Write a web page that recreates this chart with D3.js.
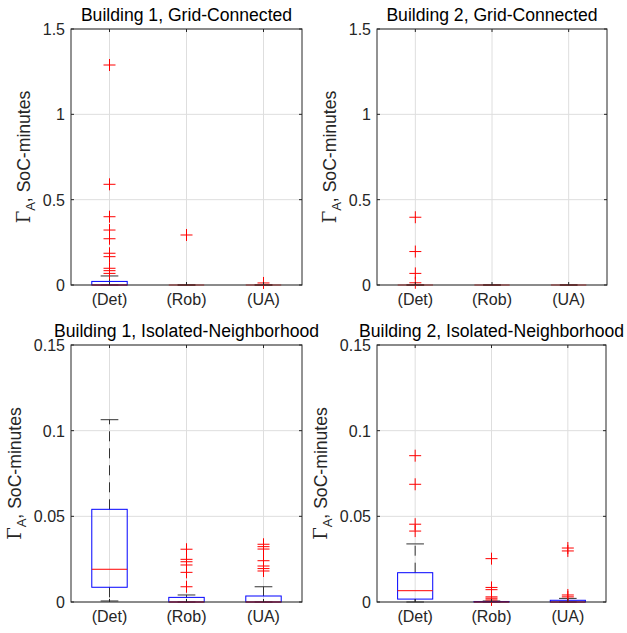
<!DOCTYPE html>
<html>
<head>
<meta charset="utf-8">
<script src="https://cdn.jsdelivr.net/npm/d3@7"></script>
<style>
  html, body { margin: 0; padding: 0; background: #fff; }
  svg { display: block; }
</style>
</head>
<body>
<svg id="chart" width="627" height="633"></svg>
<script>
// Categories and labels
const categories = ["(Det)", "(Rob)", "(UA)"];
const panelTitles = [
  "Building 1, Grid-Connected",
  "Building 2, Grid-Connected",
  "Building 1, Isolated-Neighborhood",
  "Building 2, Isolated-Neighborhood"
];
const gridTicks = [0, 0.5, 1, 1.5];
const gridTickLabels = ["0", "0.5", "1", "1.5"];
const isoTicks = [0, 0.05, 0.1, 0.15];
const isoTickLabels = ["0", "0.05", "0.1", "0.15"];

// Box statistics per category: lower whisker, Q1, median, Q3, upper whisker
const b1GridStats = [
  { lo: 0, q1: 0, med: 0, q3: 0.021, hi: 0.053 },
  { lo: 0, q1: 0, med: 0, q3: 0, hi: 0 },
  { lo: 0, q1: 0, med: 0, q3: 0, hi: 0 }
];
const b1GridOutliers = [
  [1.289, 0.59, 0.40, 0.322, 0.271, 0.186, 0.166, 0.098, 0.084, 0.068],
  [0.293],
  [0.012]
];

const b2GridStats = [
  { lo: 0, q1: 0, med: 0, q3: 0, hi: 0 },
  { lo: 0, q1: 0, med: 0, q3: 0, hi: 0 },
  { lo: 0, q1: 0, med: 0, q3: 0, hi: 0 }
];
const b2GridOutliers = [
  [0.397, 0.196, 0.068, 0.013],
  [],
  []
];

const b1IsoStats = [
  { lo: 0.0006, q1: 0.0086, med: 0.0191, q3: 0.0541, hi: 0.1064 },
  { lo: 0, q1: 0, med: 0, q3: 0.0027, hi: 0.0041 },
  { lo: 0, q1: 0, med: 0, q3: 0.0035, hi: 0.0089 }
];
const b1IsoOutliers = [
  [],
  [0.0308, 0.0249, 0.0235, 0.0216, 0.0173, 0.0089],
  [0.0337, 0.0323, 0.0309, 0.0241, 0.021, 0.0195, 0.0181]
];

const b2IsoStats = [
  { lo: 0, q1: 0.0017, med: 0.0066, q3: 0.0171, hi: 0.0339 },
  { lo: 0, q1: 0, med: 0, q3: 0.0003, hi: 0.0006 },
  { lo: 0, q1: 0, med: 0, q3: 0.001, hi: 0.0021 }
];
const b2IsoOutliers = [
  [0.0854, 0.0687, 0.0454, 0.0414],
  [0.0253, 0.0085, 0.0072, 0.003, 0.0022, 0.0012],
  [0.0315, 0.0298, 0.0041, 0.003]
];

const panels = [
  { title: panelTitles[0], stats: b1GridStats, outliers: b1GridOutliers, ymax: 1.5, ticks: gridTicks, tickLabels: gridTickLabels, x0: 71, x1: 302, y0: 29, y1: 285 },
  { title: panelTitles[1], stats: b2GridStats, outliers: b2GridOutliers, ymax: 1.5, ticks: gridTicks, tickLabels: gridTickLabels, x0: 377, x1: 607, y0: 29, y1: 285 },
  { title: panelTitles[2], stats: b1IsoStats, outliers: b1IsoOutliers, ymax: 0.15, ticks: isoTicks, tickLabels: isoTickLabels, x0: 71, x1: 302, y0: 345, y1: 602 },
  { title: panelTitles[3], stats: b2IsoStats, outliers: b2IsoOutliers, ymax: 0.15, ticks: isoTicks, tickLabels: isoTickLabels, x0: 377, x1: 606, y0: 345, y1: 602 }
];

const svg = d3.select("#chart");
const FONT = "'Liberation Sans', Arial, Helvetica, sans-serif";
const AXIS_COLOR = "#262626";
const GRID_COLOR = "#dedede";
const BOX_WIDTH = 0.46;   // in category units
const CAP_WIDTH = 0.23;
const PLUS = 6;

panels.forEach(p => {
  const x = d3.scaleLinear().domain([0.5, 3.5]).range([p.x0, p.x1]);
  const y = d3.scaleLinear().domain([0, p.ymax]).range([p.y1, p.y0]);
  const unit = x(1) - x(0);
  const g = svg.append("g");

  // grid
  g.append("g").selectAll("line").data(p.ticks).join("line")
    .attr("x1", p.x0).attr("x2", p.x1)
    .attr("y1", d => y(d)).attr("y2", d => y(d))
    .attr("stroke", GRID_COLOR).attr("stroke-width", 1);
  g.append("g").selectAll("line").data(categories).join("line")
    .attr("x1", (d, i) => x(i + 1)).attr("x2", (d, i) => x(i + 1))
    .attr("y1", p.y0).attr("y2", p.y1)
    .attr("stroke", GRID_COLOR).attr("stroke-width", 1);

  // boxes
  p.stats.forEach((s, i) => {
    const cx = x(i + 1);
    const hw = BOX_WIDTH * unit / 2;
    const cw = CAP_WIDTH * unit / 2;
    const bg = g.append("g");
    // whiskers
    bg.append("line")
      .attr("x1", cx).attr("x2", cx).attr("y1", y(s.q3)).attr("y2", y(s.hi))
      .attr("stroke", "#333").attr("stroke-width", 1).attr("stroke-dasharray", "10,7");
    bg.append("line")
      .attr("x1", cx).attr("x2", cx).attr("y1", y(s.q1)).attr("y2", y(s.lo))
      .attr("stroke", "#333").attr("stroke-width", 1).attr("stroke-dasharray", "10,7");
    // caps
    [s.hi, s.lo].forEach(v => {
      bg.append("line")
        .attr("x1", cx - cw).attr("x2", cx + cw).attr("y1", y(v)).attr("y2", y(v))
        .attr("stroke", "#333").attr("stroke-width", 1);
    });
    // box
    const flat = s.q1 === s.q3;
    bg.append("rect")
      .attr("x", cx - hw).attr("width", 2 * hw)
      .attr("y", y(s.q3)).attr("height", Math.max(0, y(s.q1) - y(s.q3)))
      .attr("fill", "none").attr("stroke", "#0000ff").attr("stroke-width", flat ? 1.5 : 1);
    // median
    bg.append("line")
      .attr("x1", cx - hw).attr("x2", cx + hw).attr("y1", y(s.med)).attr("y2", y(s.med))
      .attr("stroke", "#ff0000").attr("stroke-width", flat ? 1.5 : 1)
      .attr("stroke-opacity", flat ? 0.5 : 1);
    // outliers
    bg.selectAll("path").data(p.outliers[i]).join("path")
      .attr("d", v => `M${cx - PLUS},${y(v)}H${cx + PLUS}M${cx},${y(v) - PLUS}V${y(v) + PLUS}`)
      .attr("stroke", "#ff0000").attr("stroke-width", 1).attr("fill", "none");
  });

  // axes frame
  g.append("rect")
    .attr("x", p.x0).attr("y", p.y0).attr("width", p.x1 - p.x0).attr("height", p.y1 - p.y0)
    .attr("fill", "none").attr("stroke", AXIS_COLOR).attr("stroke-width", 1);

  // ticks (inside, all four sides)
  const tl = 3;
  p.ticks.forEach(t => {
    g.append("line").attr("x1", p.x0).attr("x2", p.x0 + tl).attr("y1", y(t)).attr("y2", y(t))
      .attr("stroke", AXIS_COLOR);
    g.append("line").attr("x1", p.x1).attr("x2", p.x1 - tl).attr("y1", y(t)).attr("y2", y(t))
      .attr("stroke", AXIS_COLOR);
  });
  categories.forEach((c, i) => {
    g.append("line").attr("x1", x(i + 1)).attr("x2", x(i + 1)).attr("y1", p.y1).attr("y2", p.y1 - tl)
      .attr("stroke", AXIS_COLOR);
    g.append("line").attr("x1", x(i + 1)).attr("x2", x(i + 1)).attr("y1", p.y0).attr("y2", p.y0 + tl)
      .attr("stroke", AXIS_COLOR);
  });

  // y tick labels
  const yl = g.append("g").selectAll("text").data(p.ticks).join("text")
    .attr("x", p.x0 - 6).attr("y", d => y(d)).attr("dy", "0.38em")
    .attr("text-anchor", "end")
    .attr("font-family", FONT).attr("font-size", 16).attr("fill", AXIS_COLOR)
    .text((d, i) => p.tickLabels[i]);
  let maxW = 0;
  yl.each(function () { maxW = Math.max(maxW, this.getBBox().width); });

  // x tick labels
  g.append("g").selectAll("text").data(categories).join("text")
    .attr("x", (d, i) => x(i + 1)).attr("y", p.y1 + 20)
    .attr("text-anchor", "middle")
    .attr("font-family", FONT).attr("font-size", 16).attr("fill", AXIS_COLOR)
    .text(d => d);

  // y axis label
  const lx = p.x0 - 6 - maxW - 13;
  const ly = (p.y0 + p.y1) / 2;
  const lab = g.append("text")
    .attr("transform", `translate(${lx},${ly}) rotate(-90)`)
    .attr("text-anchor", "middle")
    .attr("font-family", FONT).attr("font-size", 17.6).attr("fill", AXIS_COLOR);
  lab.append("tspan").attr("font-family", "'DejaVu Serif', 'Liberation Serif', serif").attr("font-size", 18).text("Γ");
  lab.append("tspan").attr("font-size", 13).attr("dy", 5).text("A");
  lab.append("tspan").attr("dy", -5).text(", SoC-minutes");

  // title
  g.append("text")
    .attr("x", (p.x0 + p.x1) / 2).attr("y", p.y0 - 8)
    .attr("text-anchor", "middle")
    .attr("font-family", FONT).attr("font-size", 17.6).attr("fill", "#000")
    .text(p.title);
});
</script>
</body>
</html>
